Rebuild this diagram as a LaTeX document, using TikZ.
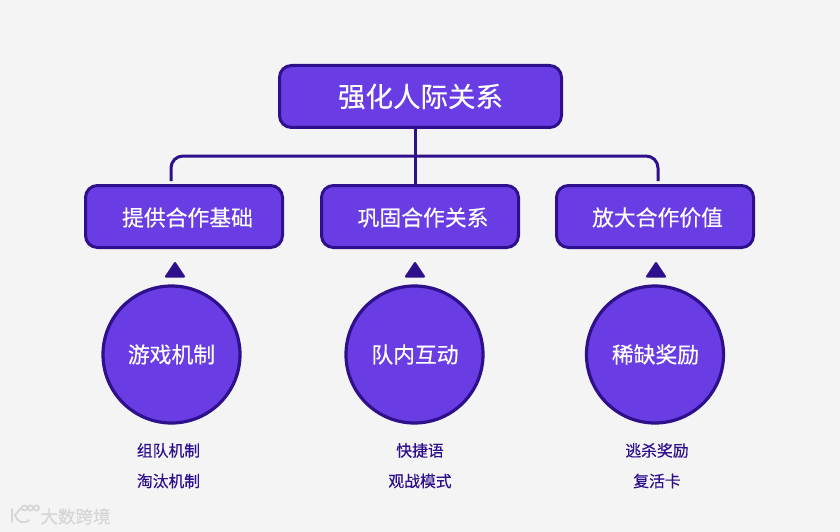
\documentclass[tikz,border=0pt]{standalone}
\usepackage{fontspec}
\setmainfont[FakeBold=0.35]{Noto Sans CJK SC}
\definecolor{bgc}{HTML}{F4F4F5}
\definecolor{fillc}{HTML}{6A3DE4}
\definecolor{linec}{HTML}{2E0F8C}
\definecolor{markc}{HTML}{D6D6D8}
\newcommand{\txt}[1]{\fontsize{#1pt}{#1pt}\selectfont}
\tikzset{
  x=1pt,y=-1pt,
  boxbase/.style={draw=linec,line width=3pt,fill=fillc,rounded corners=12pt,inner sep=0pt,text=white},
  rootbox/.style={boxbase,minimum width=282pt,minimum height=62pt},
  midbox/.style={boxbase,minimum width=197pt,minimum height=62pt},
  circ/.style={draw=linec,line width=3.2pt,fill=fillc,circle,minimum size=137pt,inner sep=0pt,text=white},
  roottext/.style={text=white,font=\txt{27.5},inner sep=0pt},
  midtext/.style={text=white,font=\txt{21.8},inner sep=0pt},
  circtext/.style={text=white,font=\txt{21.8},inner sep=0pt},
  subtext/.style={text=linec,font=\txt{15.8},inner sep=0pt},
  conn/.style={draw=linec,line width=3pt,rounded corners=12pt},
  tri/.style={fill=linec,draw=linec,line width=2pt,line join=round},
  marktext/.style={text=markc,font=\txt{17.5},inner sep=0pt},
  markline/.style={draw=markc,line width=1.8pt,line cap=round}
}
\begin{document}
\begin{tikzpicture}
\useasboundingbox[fill=bgc] (0,0) rectangle (840,532);
% connectors
\coordinate (rootout) at (415,128);
\coordinate (midin) at (415,185);
\coordinate (leftin) at (171,181);
\coordinate (rightin) at (658,181);
\draw[conn] (leftin) -- (171,156) -- (658,156) -- (rightin);
\draw[draw=linec,line width=3pt] (rootout) -- (midin);
% boxes
\node[rootbox] (root) at (420.5,96.5) {};
\node[roottext] (roott) at (420.5,96.5) {强化人际关系};
\node[midbox] (b1) at (184,216.5) {};
\node[midbox] (b2) at (420,216.5) {};
\node[midbox] (b3) at (655,216.5) {};
\node[midtext] (t1) at (187.5,217.5) {提供合作基础};
\node[midtext] (t2) at (423,217.5) {巩固合作关系};
\node[midtext] (t3) at (657.5,217.5) {放大合作价值};
% triangles
\foreach \x/\n in {175/1,415/2,656/3}{
  \filldraw[tri] (\x-9,276.5) -- (\x,263) -- (\x+9,276.5) -- cycle;
}
% circles
\node[circ] (c1) at (171.5,354.5) {};
\node[circ] (c2) at (414.5,354.5) {};
\node[circ] (c3) at (655,354.5) {};
\node[circtext] (ct1) at (171.5,354.5) {游戏机制};
\node[circtext] (ct2) at (415,354.5) {队内互动};
\node[circtext] (ct3) at (655.5,354.5) {稀缺奖励};
% lists
\node[subtext] (s11) at (168.5,450.5) {组队机制};
\node[subtext] (s12) at (168.5,481) {淘汰机制};
\node[subtext] (s21) at (420,450.5) {快捷语};
\node[subtext] (s22) at (420,481) {观战模式};
\node[subtext] (s31) at (657,450.5) {逃杀奖励};
\node[subtext] (s32) at (657,481) {复活卡};
% watermark
\node[marktext] (mark) at (75.5,516.5) {大数跨境};
\draw[markline] (12,509) -- (12,522);
\draw[markline] (22,507) -- (15,515) .. controls (17,522) and (24,525) .. (29,520);
\draw[markline] (24.5,508) circle (2.6);
\draw[markline] (30.5,508) circle (2.6);
\draw[markline] (36.5,508) circle (2.6);
\end{tikzpicture}
\end{document}
